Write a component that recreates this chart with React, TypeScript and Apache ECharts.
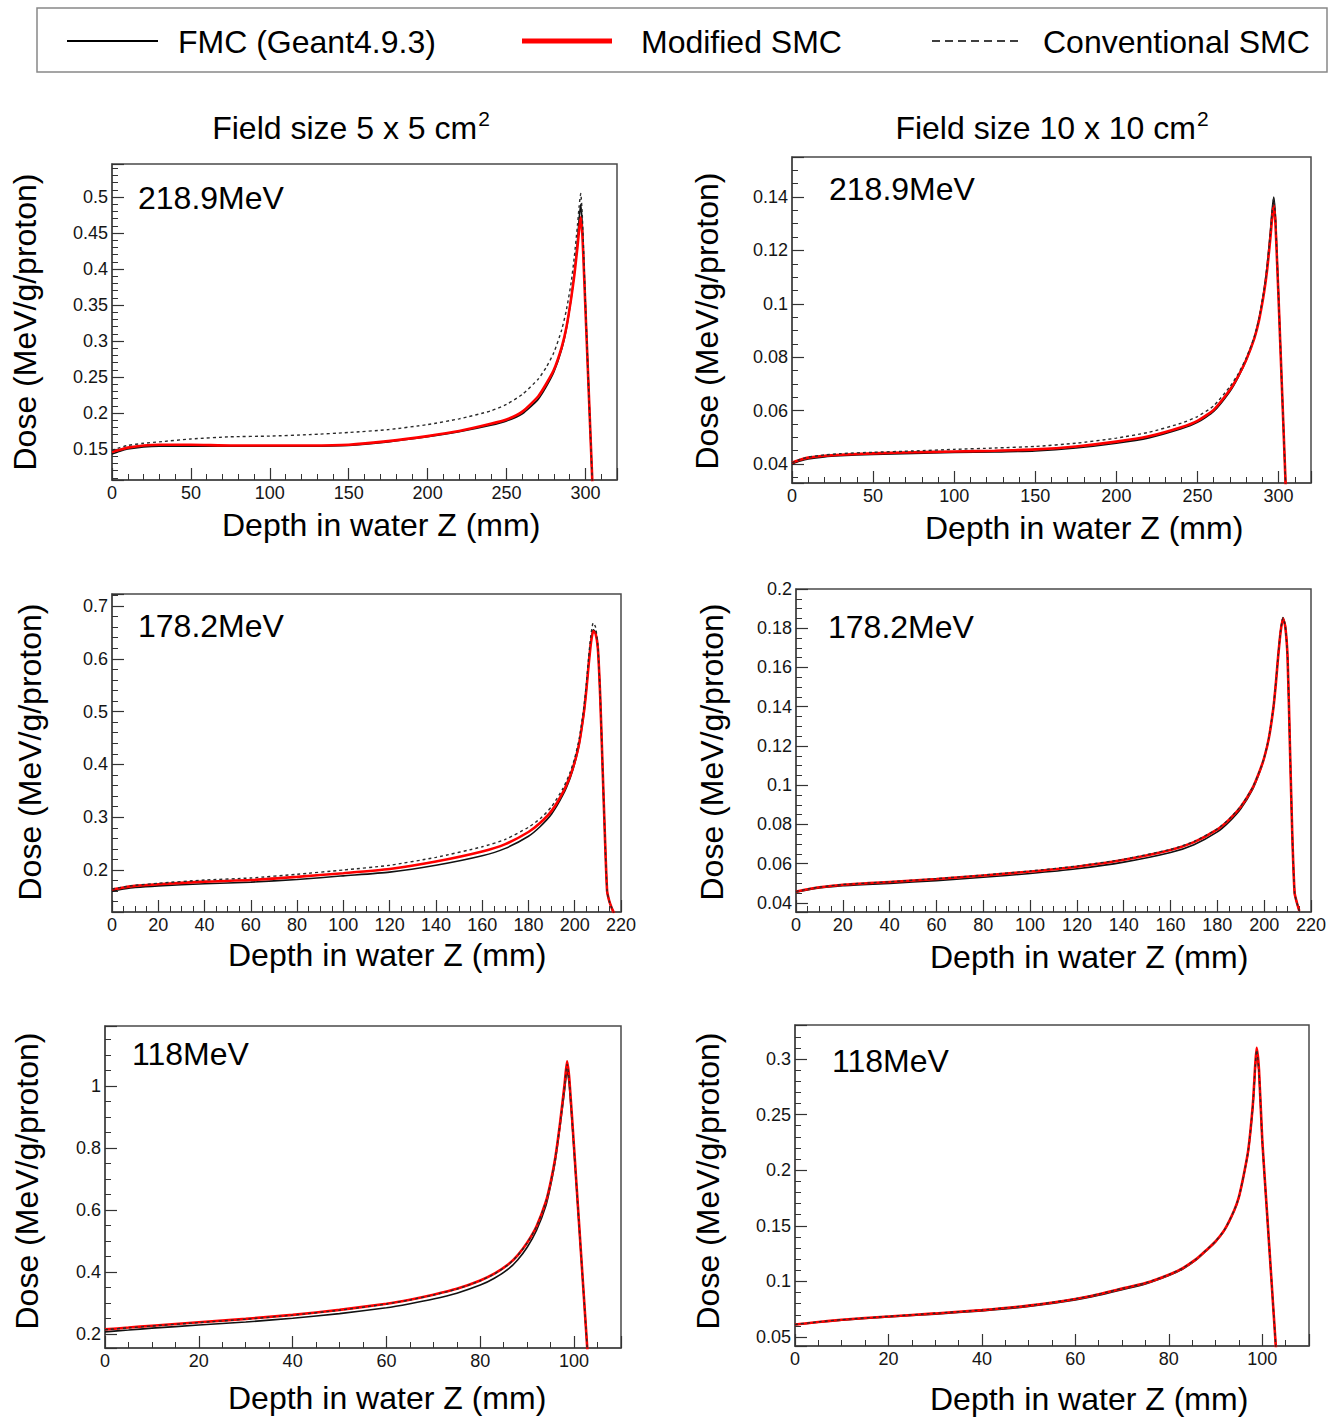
import React, { useEffect, useRef } from "react";
import * as echarts from "echarts";

// Depth-dose curves in water: FMC (Geant4.9.3), modified SMC and conventional SMC.

// ---- 218.9 MeV, field 5 x 5 cm² ----
const depthA = [0, 5, 10, 20, 30, 50, 75, 100, 125, 150, 175, 200, 220, 240, 250, 260, 270, 275, 280, 285, 288, 291, 293, 295, 296, 297, 298, 299, 300, 301, 302, 303, 304, 305];
const fmcA = [0.143, 0.147, 0.150, 0.153, 0.154, 0.154, 0.154, 0.154, 0.154, 0.155, 0.160, 0.167, 0.174, 0.183, 0.189, 0.199, 0.219, 0.236, 0.257, 0.289, 0.318, 0.360, 0.395, 0.440, 0.470, 0.490, 0.462, 0.405, 0.348, 0.292, 0.236, 0.180, 0.124, 0.068];
const modA = [0.146, 0.149, 0.152, 0.155, 0.156, 0.156, 0.155, 0.155, 0.155, 0.156, 0.161, 0.168, 0.175, 0.185, 0.191, 0.202, 0.223, 0.240, 0.260, 0.292, 0.320, 0.360, 0.392, 0.432, 0.455, 0.472, 0.450, 0.400, 0.345, 0.290, 0.235, 0.180, 0.125, 0.070];
const convA = [0.148, 0.152, 0.155, 0.158, 0.160, 0.164, 0.167, 0.168, 0.170, 0.173, 0.177, 0.184, 0.192, 0.203, 0.212, 0.226, 0.247, 0.263, 0.284, 0.316, 0.344, 0.382, 0.418, 0.462, 0.487, 0.505, 0.475, 0.415, 0.352, 0.294, 0.236, 0.180, 0.124, 0.068];

// ---- 218.9 MeV, field 10 x 10 cm² ----
const depthB = [0, 5, 10, 20, 30, 50, 75, 100, 125, 150, 175, 200, 220, 240, 250, 260, 270, 275, 280, 285, 288, 291, 293, 295, 296, 297, 298, 299, 300, 301, 302, 303, 304, 305];
const fmcB = [0.0400, 0.0411, 0.0419, 0.0427, 0.0431, 0.0436, 0.0440, 0.0443, 0.0445, 0.0449, 0.0460, 0.0478, 0.0498, 0.0532, 0.0556, 0.0597, 0.0672, 0.0724, 0.0788, 0.0870, 0.0945, 0.1050, 0.1145, 0.1275, 0.1350, 0.1400, 0.1335, 0.1185, 0.1030, 0.0865, 0.0700, 0.0540, 0.0380, 0.0220];
const modB = [0.0405, 0.0416, 0.0424, 0.0431, 0.0435, 0.0440, 0.0444, 0.0447, 0.0450, 0.0455, 0.0466, 0.0484, 0.0504, 0.0538, 0.0562, 0.0603, 0.0678, 0.0728, 0.0790, 0.0870, 0.0940, 0.1040, 0.1130, 0.1250, 0.1320, 0.1370, 0.1310, 0.1170, 0.1020, 0.0860, 0.0700, 0.0540, 0.0380, 0.0220];
const convB = [0.0405, 0.0417, 0.0426, 0.0434, 0.0439, 0.0444, 0.0449, 0.0455, 0.0460, 0.0466, 0.0478, 0.0497, 0.0519, 0.0553, 0.0578, 0.0618, 0.0690, 0.0737, 0.0796, 0.0876, 0.0946, 0.1048, 0.1140, 0.1265, 0.1340, 0.1395, 0.1330, 0.1180, 0.1025, 0.0862, 0.0700, 0.0540, 0.0380, 0.0220];

// ---- 178.2 MeV, field 5 x 5 cm² ----
const depthC = [0, 5, 10, 20, 40, 60, 80, 100, 120, 140, 160, 170, 180, 185, 190, 195, 198, 200, 202, 204, 205, 206, 207, 208, 209, 210, 211, 212, 213, 214, 215, 216, 217];
const fmcC = [0.160, 0.164, 0.167, 0.170, 0.174, 0.177, 0.182, 0.189, 0.196, 0.209, 0.227, 0.241, 0.264, 0.282, 0.306, 0.343, 0.374, 0.402, 0.440, 0.498, 0.540, 0.590, 0.634, 0.655, 0.650, 0.620, 0.530, 0.400, 0.270, 0.160, 0.140, 0.128, 0.118];
const modC = [0.163, 0.167, 0.170, 0.173, 0.178, 0.181, 0.187, 0.194, 0.202, 0.216, 0.235, 0.249, 0.272, 0.289, 0.312, 0.348, 0.378, 0.405, 0.442, 0.500, 0.540, 0.588, 0.630, 0.652, 0.648, 0.620, 0.530, 0.400, 0.270, 0.160, 0.140, 0.128, 0.118];
const convC = [0.164, 0.168, 0.171, 0.175, 0.181, 0.185, 0.192, 0.200, 0.209, 0.224, 0.244, 0.258, 0.281, 0.297, 0.320, 0.355, 0.385, 0.412, 0.450, 0.510, 0.552, 0.602, 0.645, 0.668, 0.660, 0.625, 0.532, 0.400, 0.270, 0.160, 0.140, 0.128, 0.118];

// ---- 178.2 MeV, field 10 x 10 cm² ----
const depthD = [0, 5, 10, 20, 40, 60, 80, 100, 120, 140, 160, 170, 180, 185, 190, 195, 198, 200, 202, 204, 205, 206, 207, 208, 209, 210, 211, 212, 213, 214, 215];
const fmcD = [0.0455, 0.0466, 0.0476, 0.0488, 0.0500, 0.0514, 0.0531, 0.0550, 0.0574, 0.0608, 0.0657, 0.0697, 0.0762, 0.0813, 0.0880, 0.0978, 0.1065, 0.1138, 0.1240, 0.1402, 0.1525, 0.1665, 0.1785, 0.1855, 0.1815, 0.1650, 0.1200, 0.0750, 0.0450, 0.0400, 0.0360];
const modD = [0.0458, 0.0470, 0.0480, 0.0493, 0.0507, 0.0522, 0.0540, 0.0560, 0.0585, 0.0620, 0.0670, 0.0710, 0.0775, 0.0825, 0.0890, 0.0985, 0.1070, 0.1140, 0.1240, 0.1400, 0.1520, 0.1660, 0.1780, 0.1850, 0.1810, 0.1650, 0.1200, 0.0750, 0.0450, 0.0400, 0.0360];
const convD = [0.0459, 0.0471, 0.0481, 0.0494, 0.0508, 0.0524, 0.0542, 0.0563, 0.0588, 0.0623, 0.0673, 0.0713, 0.0778, 0.0828, 0.0893, 0.0988, 0.1072, 0.1142, 0.1242, 0.1402, 0.1522, 0.1662, 0.1782, 0.1852, 0.1812, 0.1650, 0.1200, 0.0750, 0.0450, 0.0400, 0.0360];

// ---- 118 MeV, field 5 x 5 cm² ----
const depthE = [0, 5, 10, 20, 30, 40, 50, 60, 65, 70, 75, 80, 83, 86, 88, 90, 92, 94, 95, 96, 97, 98, 98.5, 99, 100, 101, 102, 103];
const fmcE = [0.207, 0.213, 0.219, 0.229, 0.239, 0.251, 0.266, 0.285, 0.298, 0.313, 0.332, 0.358, 0.380, 0.410, 0.440, 0.480, 0.535, 0.615, 0.680, 0.760, 0.870, 0.990, 1.050, 1.000, 0.790, 0.565, 0.338, 0.110];
const modE = [0.215, 0.221, 0.227, 0.238, 0.249, 0.262, 0.278, 0.298, 0.311, 0.327, 0.346, 0.373, 0.395, 0.425, 0.455, 0.495, 0.548, 0.628, 0.690, 0.770, 0.880, 1.010, 1.080, 1.020, 0.800, 0.570, 0.340, 0.110];
const convE = [0.214, 0.220, 0.226, 0.237, 0.248, 0.261, 0.277, 0.297, 0.310, 0.326, 0.345, 0.372, 0.394, 0.424, 0.454, 0.494, 0.547, 0.627, 0.689, 0.769, 0.879, 1.005, 1.070, 1.015, 0.798, 0.569, 0.340, 0.110];

// ---- 118 MeV, field 10 x 10 cm² ----
const depthF = [0, 5, 10, 20, 30, 40, 50, 60, 65, 70, 75, 80, 83, 86, 88, 90, 92, 94, 95, 96, 97, 98, 98.5, 98.8, 99.3, 100, 101, 102, 103];
const fmcF = [0.0610, 0.0632, 0.0651, 0.0680, 0.0706, 0.0735, 0.0774, 0.0833, 0.0876, 0.0926, 0.0977, 0.1052, 0.1112, 0.1198, 0.1275, 0.1355, 0.1465, 0.1635, 0.1755, 0.1945, 0.2170, 0.2580, 0.2920, 0.3050, 0.2880, 0.2260, 0.1625, 0.0990, 0.0350];
const modF = [0.0612, 0.0635, 0.0655, 0.0685, 0.0712, 0.0742, 0.0782, 0.0842, 0.0885, 0.0935, 0.0985, 0.1060, 0.1120, 0.1205, 0.1280, 0.1360, 0.1470, 0.1640, 0.1760, 0.1950, 0.2180, 0.2600, 0.2950, 0.3100, 0.2900, 0.2270, 0.1630, 0.0990, 0.0350];
const convF = [0.0613, 0.0636, 0.0656, 0.0686, 0.0713, 0.0743, 0.0783, 0.0843, 0.0886, 0.0936, 0.0986, 0.1061, 0.1121, 0.1206, 0.1281, 0.1361, 0.1471, 0.1641, 0.1761, 0.1951, 0.2181, 0.2595, 0.2940, 0.3080, 0.2890, 0.2265, 0.1628, 0.0990, 0.0350];

const energyLabels = ["218.9MeV", "218.9MeV", "178.2MeV", "178.2MeV", "118MeV", "118MeV"];
const columnTitles = ["Field size 5 x 5 cm", "Field size 10 x 10 cm"];
const seriesNames = ["FMC (Geant4.9.3)", "Modified SMC", "Conventional SMC"];
const xTitle = "Depth in water Z (mm)";
const yTitle = "Dose (MeV/g/proton)";

// Axis ranges: [min, max, major step, minor subdivisions]
const xRanges = [
  [0, 320, 50, 5],
  [0, 320, 50, 5],
  [0, 220, 20, 4],
  [0, 220, 20, 4],
  [0, 110, 20, 4],
  [0, 110, 20, 4],
];
const yRanges = [
  [0.107, 0.546, 0.05, 5],
  [0.0329, 0.155, 0.02, 4],
  [0.1205, 0.7227, 0.1, 5],
  [0.0354, 0.2, 0.02, 4],
  [0.155, 1.194, 0.2, 4],
  [0.0419, 0.3306, 0.05, 5],
];

const panelData = [
  { depth: depthA, fmc: fmcA, mod: modA, conv: convA },
  { depth: depthB, fmc: fmcB, mod: modB, conv: convB },
  { depth: depthC, fmc: fmcC, mod: modC, conv: convC },
  { depth: depthD, fmc: fmcD, mod: modD, conv: convD },
  { depth: depthE, fmc: fmcE, mod: modE, conv: convE },
  { depth: depthF, fmc: fmcF, mod: modF, conv: convF },
];

// ---- layout (pixels) ----
const W = 1341;
const H = 1418;
const FONT = "'Liberation Sans', Arial, Helvetica, sans-serif";
const FRAME = "#4a4a4a";

// plot frames: left, top, width, height
const frames = [
  [112, 164, 505, 316],
  [792, 157, 519, 326],
  [112, 594, 509, 318],
  [796, 589, 515, 323],
  [105, 1026, 516, 322],
  [795, 1025, 514, 321],
];
const energyPos = [[138, 198], [829, 189], [138, 626], [828, 627], [132, 1054], [832, 1061]];
const xTitlePos = [[222, 525], [925, 528], [228, 955], [930, 957], [228, 1398], [930, 1399]];
const yTitlePos = [[25, 322], [707, 321], [30, 752], [712, 752], [27, 1181], [708, 1181]];
const columnTitlePos = [[351, 126], [1052, 126]];

const isMultiple = (v: number, step: number) => Math.abs(v / step - Math.round(v / step)) < 1e-6;
const fmt = (v: number) => String(parseFloat(Number(v).toFixed(4)));

function axis(i: number, range: number[]) {
  const [min, max, step, minor] = range;
  return {
    type: "value",
    gridIndex: i,
    min,
    max,
    minInterval: step,
    maxInterval: step,
    splitNumber: Math.max(1, Math.round((max - min) / step)),
    axisLine: { show: true, onZero: false, lineStyle: { color: FRAME, width: 1.5 } },
    axisTick: { show: true, inside: true, length: 12, lineStyle: { color: "#333", width: 1.2 } },
    minorTick: { show: true, splitNumber: minor, length: 6, lineStyle: { color: "#333", width: 1 } },
    axisLabel: {
      show: true,
      fontFamily: FONT,
      fontSize: 18,
      color: "#151515",
      margin: 4,
      showMinLabel: isMultiple(min, step),
      showMaxLabel: isMultiple(max, step),
      formatter: fmt,
    },
    splitLine: { show: false },
    minorSplitLine: { show: false },
  };
}

function text(x: number, y: number, t: string, size: number, extra: any = {}) {
  return {
    type: "text",
    x,
    y,
    silent: true,
    ...extra,
    style: {
      text: t,
      fontFamily: FONT,
      fontSize: size,
      fill: "#000",
      align: extra.align || "left",
      verticalAlign: "middle",
      textAlign: extra.align || "left",
      textVerticalAlign: "middle",
    },
  };
}

// column heading with a raised, smaller "2" for cm²
function heading(x: number, y: number, t: string) {
  return {
    type: "text",
    x,
    y,
    silent: true,
    style: {
      text: `{a|${t}}{s|2}`,
      align: "center",
      verticalAlign: "middle",
      textAlign: "center",
      textVerticalAlign: "middle",
      rich: {
        a: { fontFamily: FONT, fontSize: 32, fill: "#000", color: "#000", lineHeight: 36, verticalAlign: "bottom" },
        s: { fontFamily: FONT, fontSize: 21, fill: "#000", color: "#000", lineHeight: 36, verticalAlign: "top", padding: [0, 0, 12, 1] },
      },
    },
  };
}

function buildOption() {
  const grid = frames.map(([left, top, width, height]) => ({
    left,
    top,
    width,
    height,
    show: true,
    borderColor: FRAME,
    borderWidth: 1.5,
    backgroundColor: "transparent",
    containLabel: false,
    outerBoundsMode: "none",
  }));

  const series: any[] = [];
  panelData.forEach((p, i) => {
    const pts = (vals: number[]) => p.depth.map((d, k) => [d, vals[k]]);
    const common = {
      type: "line",
      xAxisIndex: i,
      yAxisIndex: i,
      symbol: "none",
      showSymbol: false,
      smooth: 0.2,
      silent: true,
      clip: true,
      emphasis: { disabled: true },
    };
    series.push({ ...common, name: seriesNames[0], data: pts(p.fmc), z: 2, lineStyle: { color: "#111", width: 1.6 } });
    series.push({ ...common, name: seriesNames[1], data: pts(p.mod), z: 3, lineStyle: { color: "#ff0000", width: 2.6 } });
    series.push({ ...common, name: seriesNames[2], data: pts(p.conv), z: 4, lineStyle: { color: "#2a2a2a", width: 1.4, type: [3, 3] } });
  });

  const graphic: any[] = [
    // legend box
    { type: "rect", shape: { x: 37, y: 8, width: 1290, height: 64 }, style: { fill: "#fff", stroke: "#888", lineWidth: 1.5 }, silent: true },
    { type: "line", shape: { x1: 67, y1: 41, x2: 158, y2: 41 }, style: { stroke: "#000", lineWidth: 2 }, silent: true },
    text(178, 42, seriesNames[0], 32),
    { type: "line", shape: { x1: 522, y1: 41, x2: 612, y2: 41 }, style: { stroke: "#ff0000", lineWidth: 5 }, silent: true },
    text(641, 42, seriesNames[1], 32),
    { type: "line", shape: { x1: 932, y1: 41, x2: 1022, y2: 41 }, style: { stroke: "#000", lineWidth: 1.6, lineDash: [8, 5] }, silent: true },
    text(1043, 42, seriesNames[2], 32),
  ];
  columnTitles.forEach((t, c) => {
    graphic.push(heading(columnTitlePos[c][0], columnTitlePos[c][1], t));
  });
  for (let i = 0; i < 6; i++) {
    graphic.push(text(energyPos[i][0], energyPos[i][1], energyLabels[i], 32));
    graphic.push(text(xTitlePos[i][0], xTitlePos[i][1], xTitle, 32));
    graphic.push(text(yTitlePos[i][0], yTitlePos[i][1], yTitle, 32, { align: "center", rotation: Math.PI / 2 }));
  }

  return {
    animation: false,
    backgroundColor: "#fff",
    grid,
    xAxis: xRanges.map((r, i) => axis(i, r)),
    yAxis: yRanges.map((r, i) => axis(i, r)),
    series,
    graphic,
  };
}

export default function App() {
  const ref = useRef<HTMLDivElement>(null);
  useEffect(() => {
    if (!ref.current) return;
    const chart = echarts.init(ref.current, undefined, { renderer: "svg", width: W, height: H });
    chart.setOption(buildOption() as any);
    return () => chart.dispose();
  }, []);
  return (
    <div
      ref={ref}
      style={{ position: "fixed", left: 0, top: 0, width: W, height: H, background: "#fff" }}
    />
  );
}
